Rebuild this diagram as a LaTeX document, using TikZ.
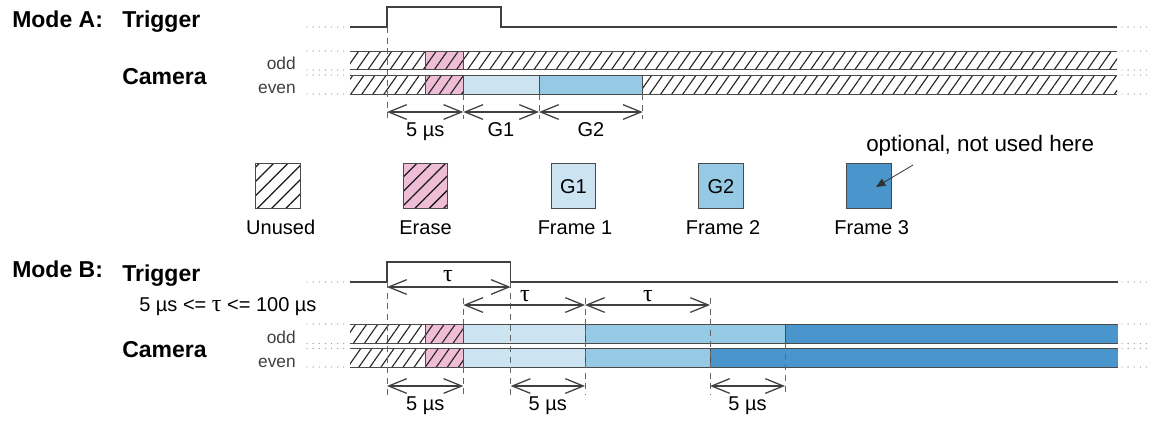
\documentclass[tikz,border=0pt]{standalone}
\usepackage{fontspec}
\setmainfont{Liberation Sans}
\newfontfamily\taufont{Liberation Serif}
\usetikzlibrary{arrows.meta,patterns.meta}
\definecolor{erasec}{HTML}{F0BDD6}
\definecolor{gone}{HTML}{CCE4F2}
\definecolor{gtwo}{HTML}{96CAE4}
\definecolor{gthree}{HTML}{4A96CC}
\definecolor{edge}{HTML}{4A4A4A}
\newcommand{\mytau}{{\taufont\fontsize{18}{20}\selectfont τ}}
\tikzset{
  big/.style={font=\fontsize{17.25}{20}\selectfont\bfseries, inner sep=0pt},
  lbl/.style={font=\fontsize{15}{18}\selectfont, inner sep=0pt},
  sml/.style={font=\fontsize{13}{15}\selectfont, text=black!75, inner sep=0pt},
  seg/.style={draw=edge, line width=0.75pt},
  hatch/.style={pattern={Lines[angle=55,distance=6.8pt,line width=0.85pt]}, pattern color=black!85},
  leghatch/.style={pattern={Lines[angle=45,distance=7.6pt,line width=0.95pt]}, pattern color=black!90},
  erasefill/.style={preaction={fill=erasec}, hatch},
  sig/.style={draw=black!75, line width=1.1pt},
  vdash/.style={draw=black!60, line width=0.75pt, dash pattern=on 4.5pt off 3.5pt},
  dim/.style={draw=black!75, line width=0.95pt, {Straight Barb[length=13.5pt,width=11pt]}-{Straight Barb[length=13.5pt,width=11pt]}},
  dots/.style={draw=black!40, line width=1pt, line cap=round, dash pattern=on 0pt off 4.6pt},
  legbox/.style={seg, minimum width=33.5pt, minimum height=33.5pt, inner sep=0pt, font=\fontsize{15}{18}\selectfont},
}
\begin{document}
\begin{tikzpicture}[x=0.75pt,y=-0.75pt]
\useasboundingbox (0,0) rectangle (1155,437);

% ================= MODE A =================
\node[big, anchor=base west] (modeA) at (12,27) {Mode A:};
\node[big, anchor=base west] (trigA) at (122,27) {Trigger};
\node[big, anchor=base west] (camA) at (122,84) {Camera};
\node[sml, anchor=base east] (oddA) at (296,69) {odd};
\node[sml, anchor=base east] (evenA) at (296,93) {even};

% dotted continuations
\foreach \yy in {27,51,70,75,94} {
  \draw[dots] (307,\yy) -- (347,\yy);
  \draw[dots] (1122,\yy) -- (1152,\yy);
}

% trigger
\draw[sig] (350,27) -- (387,27) -- (387,7) -- (501,7) -- (501,27) -- (1117,27);

% odd bar
\path[hatch] (350,51) rectangle (425.7,69.5);
\path[erasefill] (425.7,51) rectangle (463.3,69.5);
\path[hatch] (463.3,51) rectangle (1117,69.5);
% even bar
\path[hatch] (350,75) rectangle (425.7,94);
\path[erasefill] (425.7,75) rectangle (463.3,94);
\path[fill=gone] (463.3,75) rectangle (539,94);
\path[fill=gtwo] (539,75) rectangle (642.7,94);
\path[hatch] (642.7,75) rectangle (1117,94);
% borders
\draw[seg] (350,51) -- (1117,51) (350,69.5) -- (1117,69.5)
           (350,75) -- (1117,75) (350,94) -- (1117,94);
\draw[seg] (425.7,51) -- (425.7,69.5) (463.3,51) -- (463.3,69.5)
           (425.7,75) -- (425.7,94) (463.3,75) -- (463.3,94)
           (539,75) -- (539,94) (642.7,75) -- (642.7,94);

% dashed markers
\draw[vdash] (387,27) -- (387,119);
\draw[vdash] (463.3,94) -- (463.3,119);
\draw[vdash] (539,94) -- (539,119);
\draw[vdash] (642.7,94) -- (642.7,119);

% dimension arrows
\coordinate (a0) at (387,112);
\coordinate (a1) at (463.3,112);
\coordinate (a2) at (539,112);
\coordinate (a3) at (642.7,112);
\draw[dim] (a0) -- (a1);
\draw[dim] (a1) -- (a2);
\draw[dim] (a2) -- (a3);
\node[lbl, anchor=base] (dA1) at (425.2,136) {5 µs};
\node[lbl, anchor=base] (dA2) at (501,136) {G1};
\node[lbl, anchor=base] (dA3) at (591,136) {G2};

% ================= LEGEND =================
\node[legbox, leghatch] (lu) at (278,186.3) {};
\node[legbox, preaction={fill=erasec}, leghatch] (le) at (425.5,186.3) {};
\node[legbox, fill=gone] (l1) at (573.5,186.3) {G1};
\node[legbox, fill=gtwo] (l2) at (721,186.3) {G2};
\node[legbox, fill=gthree] (l3) at (868.7,186.3) {};
\node[lbl, anchor=base] (tu) at (280.7,234) {Unused};
\node[lbl, anchor=base] (te) at (425.5,234) {Erase};
\node[lbl, anchor=base] (t1) at (575,234) {Frame 1};
\node[lbl, anchor=base] (t2) at (723,234) {Frame 2};
\node[lbl, anchor=base] (t3) at (871.7,234) {Frame 3};
\node[font=\fontsize{16.8}{20}\selectfont, inner sep=0pt, anchor=base west] (opt) at (866,151) {optional, not used here};
\coordinate (optfrom) at (913,165);
\coordinate (optto) at (876,187);
\draw[draw=black!80, line width=0.6pt, -{Triangle[length=7pt,width=6pt]}] (optfrom) -- (optto);

% ================= MODE B =================
\node[big, anchor=base west] (modeB) at (12,277) {Mode B:};
\node[big, anchor=base west] (trigB) at (122,281) {Trigger};
\node[lbl, anchor=base west] (cond) at (139,311) {5 µs <= \mytau{} <= 100 µs};
\node[big, anchor=base west] (camB) at (122,357) {Camera};
\node[sml, anchor=base east] (oddB) at (296,343) {odd};
\node[sml, anchor=base east] (evenB) at (296,367) {even};

\foreach \yy in {282,324,343.5,348.5,367} {
  \draw[dots] (307,\yy) -- (347,\yy);
  \draw[dots] (1122,\yy) -- (1152,\yy);
}

% trigger
\draw[sig] (350,282) -- (387,282) -- (387,262) -- (510.7,262) -- (510.7,282) -- (1118,282);

% odd bar
\path[hatch] (350,324) rectangle (425.7,343);
\path[erasefill] (425.7,324) rectangle (463.3,343);
\path[fill=gone] (463.3,324) rectangle (585,343);
\path[fill=gtwo] (585,324) rectangle (785,343);
\path[fill=gthree] (785,324) rectangle (1118,343);
% even bar
\path[hatch] (350,348.5) rectangle (425.7,367);
\path[erasefill] (425.7,348.5) rectangle (463.3,367);
\path[fill=gone] (463.3,348.5) rectangle (585,367);
\path[fill=gtwo] (585,348.5) rectangle (710,367);
\path[fill=gthree] (710,348.5) rectangle (1118,367);
% borders
\draw[seg] (350,324) -- (1118,324) (350,343) -- (1118,343)
           (350,348.5) -- (1118,348.5) (350,367) -- (1118,367);
\draw[seg] (425.7,324) -- (425.7,343) (463.3,324) -- (463.3,343)
           (585,324) -- (585,343) (785,324) -- (785,343)
           (425.7,348.5) -- (425.7,367) (463.3,348.5) -- (463.3,367)
           (585,348.5) -- (585,367) (710,348.5) -- (710,367);

% dashed markers
\draw[vdash] (387,282) -- (387,395);
\draw[vdash] (463.3,298) -- (463.3,324) (463.3,367) -- (463.3,395);
\draw[vdash] (510.7,282) -- (510.7,395);
\draw[vdash] (585,298) -- (585,395);
\draw[vdash] (710,298) -- (710,395);
\draw[vdash] (785,343) -- (785,395);

% tau arrows
\coordinate (t0a) at (387,287);
\coordinate (t0b) at (510.7,287);
\coordinate (t1a) at (463.3,305);
\coordinate (t1b) at (585,305);
\coordinate (t2b) at (710,305);
\draw[dim] (t0a) -- (t0b);
\draw[dim] (t1a) -- (t1b);
\draw[dim] (t1b) -- (t2b);
\node[inner sep=0pt] (tau1) at (448,276) {\mytau};
\node[inner sep=0pt] (tau2) at (525,296) {\mytau};
\node[inner sep=0pt] (tau3) at (648,296) {\mytau};

% bottom 5 us arrows
\coordinate (b0) at (387,386);
\coordinate (b1) at (463.3,386);
\coordinate (b2) at (510.7,386);
\coordinate (b3) at (585,386);
\coordinate (b4) at (710,386);
\coordinate (b5) at (785,386);
\draw[dim] (b0) -- (b1);
\draw[dim] (b2) -- (b3);
\draw[dim] (b4) -- (b5);
\node[lbl, anchor=base] (dB1) at (425.2,410) {5 µs};
\node[lbl, anchor=base] (dB2) at (547.8,410) {5 µs};
\node[lbl, anchor=base] (dB3) at (747.5,410) {5 µs};
\end{tikzpicture}
\end{document}
